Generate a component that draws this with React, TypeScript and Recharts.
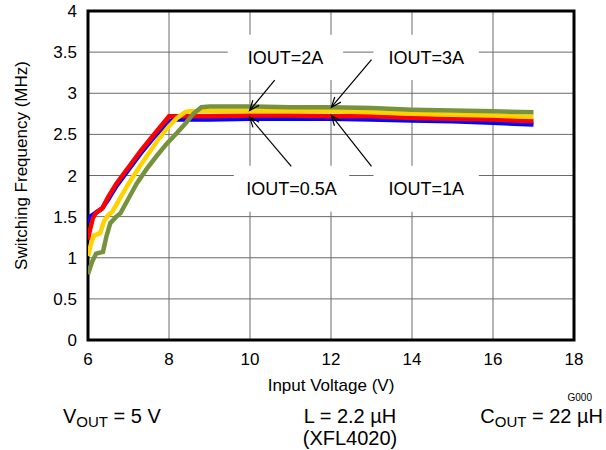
import React from 'react';
import { LineChart, Line, XAxis, YAxis, CartesianGrid, ReferenceArea, ReferenceLine } from 'recharts';

const FONT = "'Liberation Sans', Arial, Helvetica, sans-serif";

const xTicks = [6, 8, 10, 12, 14, 16, 18];
const yTicks = [0, 0.5, 1, 1.5, 2, 2.5, 3, 3.5, 4];

// IOUT = 0.5 A (blue)
const vin05 = [6.0, 6.05, 6.2, 6.35, 6.5, 6.7, 7.0, 7.3, 7.6, 7.9, 8.1, 9, 10, 11, 12, 13, 14, 15, 16, 17];
const freq05 = [1.42, 1.5, 1.55, 1.6, 1.71, 1.87, 2.07, 2.27, 2.45, 2.61, 2.68, 2.68, 2.69, 2.69, 2.69, 2.68, 2.67, 2.66, 2.64, 2.62];

// IOUT = 1 A (red)
const vin1 = [6.0, 6.05, 6.12, 6.2, 6.35, 6.5, 6.7, 7.0, 7.3, 7.6, 7.9, 8.0, 9, 10, 11, 12, 13, 14, 15, 16, 17];
const freq1 = [1.22, 1.34, 1.48, 1.55, 1.6, 1.74, 1.9, 2.1, 2.3, 2.48, 2.66, 2.72, 2.72, 2.73, 2.73, 2.72, 2.72, 2.7, 2.69, 2.68, 2.66];

// IOUT = 2 A (yellow)
const vin2 = [6.0, 6.08, 6.15, 6.3, 6.4, 6.5, 6.6, 6.8, 7.0, 7.25, 7.5, 7.75, 8.0, 8.2, 8.4, 8.5, 9, 10, 11, 12, 13, 14, 15, 16, 17];
const freq2 = [1.02, 1.18, 1.27, 1.3, 1.45, 1.52, 1.56, 1.73, 1.9, 2.09, 2.27, 2.45, 2.6, 2.7, 2.77, 2.78, 2.78, 2.78, 2.78, 2.78, 2.77, 2.75, 2.74, 2.73, 2.71];

// IOUT = 3 A (green)
const vin3 = [6.0, 6.1, 6.2, 6.37, 6.45, 6.55, 6.7, 6.8, 7.0, 7.2, 7.45, 7.7, 7.95, 8.2, 8.4, 8.6, 8.8, 9, 10, 11, 12, 13, 14, 15, 16, 17];
const freq3 = [0.8, 0.95, 1.05, 1.07, 1.25, 1.42, 1.5, 1.54, 1.72, 1.9, 2.08, 2.24, 2.39, 2.52, 2.63, 2.75, 2.83, 2.84, 2.84, 2.83, 2.83, 2.82, 2.8, 2.79, 2.78, 2.77];

const seriesNames = ['IOUT=0.5A', 'IOUT=1A', 'IOUT=2A', 'IOUT=3A'];
const seriesVin = [vin05, vin1, vin2, vin3];
const seriesFreq = [freq05, freq1, freq2, freq3];
const seriesColors = ['#0000FF', '#FF0000', '#FFD200', '#76923C'];

const boxLabels = ['IOUT=2A', 'IOUT=3A', 'IOUT=0.5A', 'IOUT=1A'];
const boxX1 = [9.45, 13.05, 9.6, 13.05];
const boxX2 = [12.3, 15.65, 12.45, 15.65];
const boxY1 = [3.16, 3.16, 1.56, 1.56];
const boxY2 = [3.71, 3.71, 2.12, 2.12];

const arrowFromX = [10.61, 13.0, 11.02, 13.0];
const arrowFromY = [3.16, 3.41, 2.11, 2.11];
const arrowToX = [9.99, 12.01, 9.99, 12.01];
const arrowToY = [2.79, 2.83, 2.71, 2.73];

const seriesData = seriesVin.map((vs, i) => vs.map((v, j) => ({ v, f: seriesFreq[i][j] })));

const ArrowShape = (props: any) => {
  const { x1, y1, x2, y2 } = props;
  const ang = Math.atan2(y2 - y1, x2 - x1);
  const len = 10;
  const w = 4;
  const bx = x2 - len * Math.cos(ang);
  const by = y2 - len * Math.sin(ang);
  const p1x = bx + w * Math.sin(ang);
  const p1y = by - w * Math.cos(ang);
  const p2x = bx - w * Math.sin(ang);
  const p2y = by + w * Math.cos(ang);
  return (
    <g>
      <line x1={x1} y1={y1} x2={x2} y2={y2} stroke="#000" strokeWidth={1.2} />
      <path d={`M${p1x},${p1y} L${x2},${y2} L${p2x},${p2y}`} fill="none" stroke="#000" strokeWidth={1.2} />
    </g>
  );
};

const XLabel = (props: any) => {
  const vb = props.viewBox || {};
  return (
    <text x={vb.x + vb.width / 2} y={391} textAnchor="middle" fontSize={17} fontFamily={FONT} fill="#000">
      Input Voltage (V)
    </text>
  );
};

const YLabel = (props: any) => {
  const vb = props.viewBox || {};
  const cy = vb.y + vb.height / 2 - 10;
  return (
    <text x={27} y={cy} transform={`rotate(-90, 27, ${cy})`} textAnchor="middle" fontSize={17} fontFamily={FONT} fill="#000">
      Switching Frequency (MHz)
    </text>
  );
};

const subStyle: React.CSSProperties = { fontSize: 15, position: 'relative', top: 4 };

export default function App() {
  return (
    <div style={{ position: 'absolute', left: 0, top: 0, width: 606, height: 450, background: '#fff', fontFamily: FONT }}>
      <LineChart width={606} height={450} margin={{ top: 11, right: 32, bottom: 0, left: 0 }}>
        <CartesianGrid stroke="#6a6a6a" strokeWidth={1} />
        <XAxis
          dataKey="v"
          type="number"
          domain={[6, 18]}
          ticks={xTicks}
          allowDataOverflow
          height={110}
          axisLine={false}
          tickLine={false}
          tickSize={0}
          tickMargin={13}
          tick={{ fontSize: 17, fill: '#000', fontFamily: FONT }}
          label={<XLabel />}
        />
        <YAxis
          type="number"
          domain={[0, 4]}
          ticks={yTicks}
          width={88}
          axisLine={false}
          tickLine={false}
          tickSize={0}
          tickMargin={11}
          tick={{ fontSize: 17, fill: '#000', fontFamily: FONT }}
          label={<YLabel />}
        />
        {boxLabels.map((t, i) => (
          <ReferenceArea
            key={'box' + i}
            x1={boxX1[i]}
            x2={boxX2[i]}
            y1={boxY1[i]}
            y2={boxY2[i]}
            fill="#fff"
            fillOpacity={1}
            stroke="none"
            label={{ value: t, position: 'center', fontSize: 18, fill: '#000', fontFamily: FONT }}
          />
        ))}
        <ReferenceArea x1={6} x2={18} y1={0} y2={4} fill="none" stroke="#000" strokeWidth={3} />
        {seriesNames.map((n, i) => (
          <Line
            key={n}
            name={n}
            data={seriesData[i]}
            dataKey="f"
            type="linear"
            stroke={seriesColors[i]}
            strokeWidth={4.5}
            dot={false}
            activeDot={false}
            isAnimationActive={false}
          />
        ))}
        {arrowFromX.map((_, i) => (
          <ReferenceLine
            key={'arr' + i}
            segment={[
              { x: arrowFromX[i], y: arrowFromY[i] },
              { x: arrowToX[i], y: arrowToY[i] },
            ]}
            shape={ArrowShape}
          />
        ))}
      </LineChart>
      <div style={{ position: 'absolute', right: 14, top: 392, fontSize: 10, lineHeight: '12px', color: '#000' }}>G000</div>
      <div style={{ position: 'absolute', left: 63, top: 405, fontSize: 20, lineHeight: '22px', whiteSpace: 'nowrap' }}>
        V<span style={subStyle}>OUT</span> = 5 V
      </div>
      <div style={{ position: 'absolute', left: 250, width: 200, top: 405, fontSize: 20, lineHeight: '22px', textAlign: 'center' }}>
        L = 2.2 µH
        <br />
        (XFL4020)
      </div>
      <div style={{ position: 'absolute', right: 3, top: 405, fontSize: 20, lineHeight: '22px', whiteSpace: 'nowrap' }}>
        C<span style={subStyle}>OUT</span> = 22 µH
      </div>
    </div>
  );
}
